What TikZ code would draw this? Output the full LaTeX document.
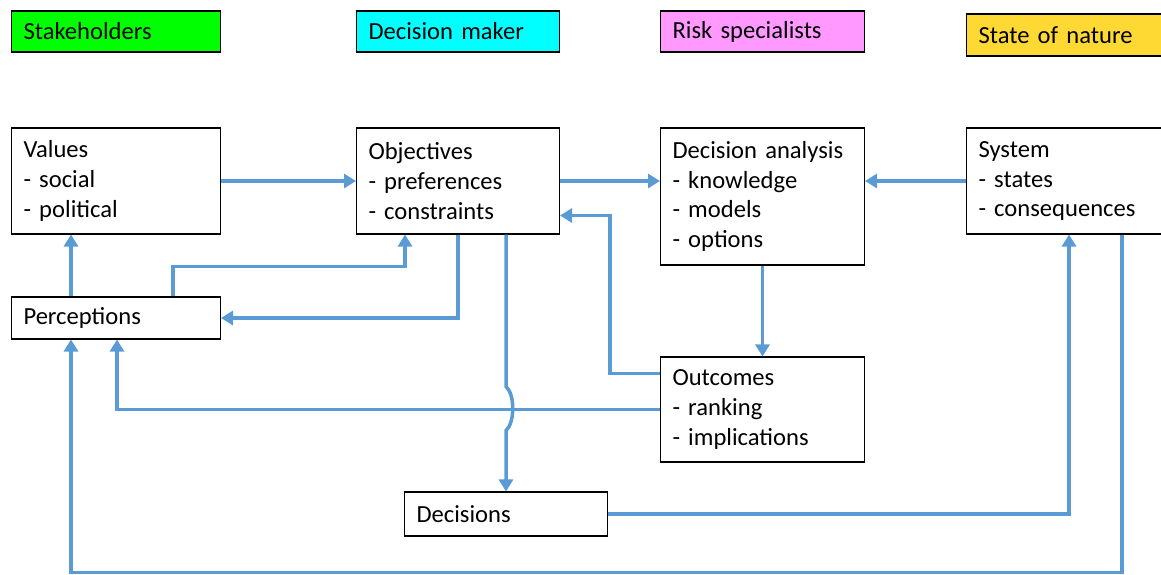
\documentclass[tikz,border=0pt]{standalone}
\usepackage{fontspec}
\setmainfont{Carlito}
\usetikzlibrary{arrows.meta,calc}
\definecolor{flowblue}{HTML}{5B9BD5}
\definecolor{stakegreen}{HTML}{00FF00}
\definecolor{makercyan}{HTML}{00FFFF}
\definecolor{riskpink}{HTML}{FF99FF}
\definecolor{natureyellow}{HTML}{FFD933}
\tikzset{
  box/.style={rectangle,draw,line width=0.6pt,anchor=west,align=left,
    inner xsep=0.24cm,inner ysep=0pt,font=\fontsize{14}{17}\selectfont},
  flow/.style={line width=2pt,flowblue,-{Triangle[width=0.28cm,length=0.24cm]}},
}
\begin{document}
\begin{tikzpicture}[x=0.02cm,y=-0.02cm]
  \clip (0,0) rectangle (1161,575);
  % header row
  \draw node (stake) at(11,31.5) [box,fill=stakegreen,text width=3.70cm,minimum height=0.82cm] {Stakeholders}
        node (maker) at(356,31.5) [box,fill=makercyan,text width=3.58cm,minimum height=0.82cm] {Decision maker}
        node (risk) at(660,31.5) [box,fill=riskpink,text width=3.60cm,minimum height=0.82cm] {Risk specialists}
        node (nature) at(966,35) [box,fill=natureyellow,text width=3.70cm,minimum height=0.84cm] {State of nature};
  % main boxes
  \draw node (values) at(11,181) [box,text width=3.70cm,minimum height=2.12cm] {Values\\- social\\- political}
        node (objectives) at(356,181) [box,text width=3.58cm,minimum height=2.12cm] {Objectives\\- preferences\\- constraints}
        node (analysis) at(660,196.5) [box,text width=3.60cm,minimum height=2.74cm] {Decision analysis\\- knowledge\\- models\\- options}
        node (system) at(966,181) [box,text width=3.70cm,minimum height=2.12cm] {System\\- states\\- consequences}
        node (perceptions) at(11,318) [box,text width=3.70cm,minimum height=0.84cm] {Perceptions}
        node (outcomes) at(660,409.5) [box,text width=3.60cm,minimum height=2.10cm] {Outcomes\\- ranking\\- implications}
        node (decisions) at(404,514) [box,text width=3.58cm,minimum height=0.88cm] {Decisions};
  % connectors
  \draw[flow] (values) -- (objectives);
  \draw[flow] (objectives.east) -- (objectives.east -| analysis.west);
  \draw[flow] (system.west) -- (system.west -| analysis.east);
  \draw[flow] (analysis.south) -- (outcomes.north);
  \draw[flow] ($(outcomes.north west)+(0,17)$) -| ($(objectives.south east)+(50,-19)$) -- ($(objectives.south east)+(0,-19)$);
  \draw[flow] (outcomes.west) -| ($(perceptions.south west)+(106,0)$);
  \draw[flow] (decisions.north |- objectives.south) -- ++(0,152)
        .. controls +(9,8) and +(9,-8) .. ++(0,44) -- (decisions.north);
  \draw[flow] ($(objectives.south west)+(102,0)$) |- (perceptions.east);
  \draw[flow] ($(perceptions.north west)+(162,0)$) |- ($(objectives.south west)+(49,32)$) -- ($(objectives.south west)+(49,0)$);
  \draw[flow] ($(perceptions.north west)+(60,0)$) -- ($(values.south west)+(60,0)$);
  \draw[flow] (decisions.east) -| ($(system.south west)+(103,0)$);
  \draw[flow] ($(system.south west)+(156,0)$) -- ++(0,338) -| ($(perceptions.south west)+(60,0)$);
\end{tikzpicture}
\end{document}
